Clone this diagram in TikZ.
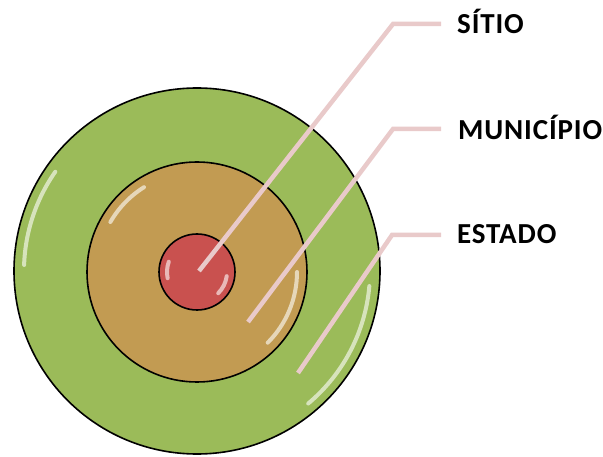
\documentclass[tikz,border=0pt]{standalone}
\usepackage{fontspec}
\setmainfont{Carlito}
\newfontfamily\lblfont[LetterSpace=3]{Carlito}
\definecolor{estado}{HTML}{9BBB59}
\definecolor{munic}{HTML}{C29B52}
\definecolor{sitio}{HTML}{C9514F}
\definecolor{leader}{HTML}{E9CACA}
\begin{document}
\begin{tikzpicture}[x=1pt,y=-1pt,
  ring/.style={circle,draw=black,line width=1.6pt,inner sep=0pt},
  gloss/.style={white,opacity=0.6,line width=4pt,line cap=round},
  leaderline/.style={leader,line width=4.5pt},
  lbl/.style={anchor=west,inner sep=0pt,font=\lblfont\bfseries\fontsize{29}{31}\selectfont,text height=18.7pt,text depth=0pt}]
\useasboundingbox (0,0) rectangle (603,457);
\node[ring,fill=estado,minimum size=366pt] (E) at (197,271) {};
\node[ring,fill=munic,minimum size=220pt] (M) at (197,272) {};
\node[ring,fill=sitio,minimum size=76pt] (S) at (197,272) {};
% gloss highlights (y axis points down: negative angles are upward)
\draw[gloss] (197,271) ++(-145:173) arc[start angle=-145,end angle=-178,radius=173];
\draw[gloss] (197,271) ++(5:173) arc[start angle=5,end angle=50,radius=173];
\draw[gloss] (197,272) ++(-122:100) arc[start angle=-122,end angle=-150,radius=100];
\draw[gloss] (197,272) ++(0:100) arc[start angle=0,end angle=45,radius=100];
\draw[gloss] (197,272) ++(-160:30) arc[start angle=-160,end angle=-192,radius=30];
\draw[gloss] (197,272) ++(8:30) arc[start angle=8,end angle=45,radius=30];
% labels
\node[lbl] (ls) at (457,24) {SÍTIO};
\node[lbl] (lm) at (458,130) {MUNICÍPIO};
\node[lbl] (le) at (457,234) {ESTADO};
% leader coordinates
\coordinate (s0) at (199,271);
\coordinate (s1) at (393,24);
\coordinate (s2) at (441,24);
\coordinate (m0) at (248,322);
\coordinate (m1) at (393,129);
\coordinate (m2) at (441,129);
\coordinate (e0) at (298,373);
\coordinate (e1) at (392,235);
\coordinate (e2) at (441,235);
\draw[leaderline] (s0) -- (s1) -- (s2);
\draw[leaderline] (m0) -- (m1) -- (m2);
\draw[leaderline] (e0) -- (e1) -- (e2);
\end{tikzpicture}
\end{document}
